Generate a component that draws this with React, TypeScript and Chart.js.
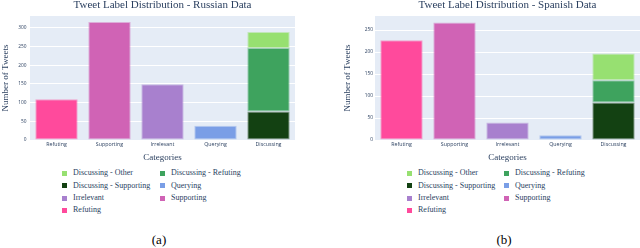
import React, { useEffect, useRef } from "react";
import { Chart, registerables } from "chart.js";

Chart.register(...registerables);

const categories = ["Refuting", "Supporting", "Irrelevant", "Querying", "Discussing"];
const singleLabels = ["Refuting", "Supporting", "Irrelevant", "Querying"];
const discussingLabels = ["Discussing - Supporting", "Discussing - Refuting", "Discussing - Other"];

// Russian data
const russianSingle = [109, 316, 149, 38];
const russianDiscussing = [76, 170, 43];
const russianYTicks = [0, 50, 100, 150, 200, 250, 300];

// Spanish data
const spanishSingle = [227, 267, 40, 11];
const spanishDiscussing = [85, 51, 61];
const spanishYTicks = [0, 50, 100, 150, 200, 250];

const singleColors = ["#FF4A9C", "#D063B5", "#A880CE", "#7A9EE6"];
const discussingColors = ["#134112", "#3EA35E", "#97E071"];

const legendOrder = [
  ["Discussing - Other", "#97E071"],
  ["Discussing - Refuting", "#3EA35E"],
  ["Discussing - Supporting", "#134112"],
  ["Querying", "#7A9EE6"],
  ["Irrelevant", "#A880CE"],
  ["Supporting", "#D063B5"],
  ["Refuting", "#FF4A9C"],
];

const TEXT = "#2a3f5f";
const SERIF = "'Liberation Serif', 'DejaVu Serif', serif";
const SANS = "'Open Sans', sans-serif";

function hexA(hex: string, a: number) {
  const n = parseInt(hex.slice(1), 16);
  return `rgba(${(n >> 16) & 255},${(n >> 8) & 255},${n & 255},${a})`;
}

const bgPlugin = {
  id: "plotbg",
  beforeDraw(chart: any) {
    const { ctx, chartArea } = chart;
    ctx.save();
    ctx.fillStyle = "#E5ECF6";
    ctx.fillRect(chartArea.left, chartArea.top, chartArea.right - chartArea.left, chartArea.bottom - chartArea.top);
    ctx.restore();
  },
};

function buildDatasets(single: number[], disc: number[]) {
  const ds: any[] = [];
  singleLabels.forEach((lab, i) => {
    ds.push({
      label: lab,
      data: categories.map((c) => (c === lab ? single[i] : null)),
      backgroundColor: singleColors[i],
      borderColor: hexA(singleColors[i], 0.45),
      borderWidth: 1,
      borderSkipped: false,
    });
  });
  discussingLabels.forEach((lab, i) => {
    ds.push({
      label: lab,
      data: categories.map((c) => (c === "Discussing" ? disc[i] : null)),
      backgroundColor: discussingColors[i],
      borderColor: hexA(discussingColors[i], 0.45),
      borderWidth: 1,
      borderSkipped: false,
    });
  });
  return ds;
}

type Props = {
  title: string;
  single: number[];
  disc: number[];
  yTicks: number[];
  yMax: number;
  yAxisWidth: number;
  yTitlePad: number;
  rightPad: number;
  tickPad: number;
};

function BarChart(p: Props) {
  const ref = useRef<HTMLCanvasElement>(null);
  useEffect(() => {
    const chart = new Chart(ref.current!, {
      type: "bar",
      data: { labels: categories, datasets: buildDatasets(p.single, p.disc) },
      plugins: [bgPlugin],
      options: {
        animation: false,
        responsive: false,
        devicePixelRatio: 1,
        layout: { padding: { left: 0, right: p.rightPad, top: 0, bottom: 0 } },
        datasets: { bar: { categoryPercentage: 1, barPercentage: 0.8 } },
        plugins: {
          legend: { display: false },
          tooltip: { enabled: false },
          title: {
            display: true,
            text: p.title,
            fullSize: false,
            color: TEXT,
            font: { family: SERIF, size: 11, weight: "normal", lineHeight: 1 },
            padding: { top: 0, bottom: 5 },
          },
        },
        scales: {
          x: {
            stacked: true,
            grid: { display: false, drawTicks: false },
            border: { display: false },
            ticks: { color: TEXT, font: { family: SANS, size: 5.3 }, padding: 1, maxRotation: 0, autoSkip: false },
            title: {
              display: true,
              text: "Categories",
              color: TEXT,
              font: { family: SERIF, size: 9 },
              padding: { top: 0, bottom: 0 },
            },
            afterFit: (s: any) => {
              s.height = 23;
            },
          },
          y: {
            stacked: true,
            min: 0,
            max: p.yMax,
            grid: { color: "#ffffff", lineWidth: 1, drawTicks: false },
            border: { display: false },
            ticks: { color: TEXT, font: { family: SANS, size: 4.8 }, padding: p.tickPad, stepSize: 50 },
            afterBuildTicks: (s: any) => {
              s.ticks = p.yTicks.map((v) => ({ value: v }));
            },
            title: {
              display: true,
              text: "Number of Tweets",
              color: TEXT,
              font: { family: SERIF, size: 9 },
              padding: { top: p.yTitlePad, bottom: 0 },
            },
            afterFit: (s: any) => {
              s.width = p.yAxisWidth;
            },
          },
        },
      } as any,
    });
    return () => chart.destroy();
  }, []);
  return <canvas ref={ref} width={320} height={163} style={{ display: "block", width: 320, height: 163 }} />;
}

function Legend({ left, markerCol2 }: { left: number; markerCol2: number }) {
  const rowsY = [173.3, 185.7, 198, 210.4];
  return (
    <>
      {legendOrder.map(([label, color], i) => {
        const row = Math.floor(i / 2);
        const col = i % 2;
        const x = col === 0 ? left : markerCol2;
        const y = rowsY[row];
        return (
          <div
            key={label}
            style={{
              position: "absolute",
              left: x,
              top: y - 6,
              height: 12,
              lineHeight: "12px",
              display: "flex",
              alignItems: "center",
              whiteSpace: "nowrap",
              fontFamily: SERIF,
              fontSize: 8,
              color: TEXT,
            }}
          >
            <span style={{ display: "inline-block", width: 5, height: 5, background: color, marginRight: 6 }} />
            <span>{label}</span>
          </div>
        );
      })}
    </>
  );
}

export default function App() {
  return (
    <div style={{ position: "absolute", left: 0, top: 0, width: 640, height: 248, background: "#fff", overflow: "hidden" }}>
      <div style={{ position: "absolute", left: 0, top: 0 }}>
        <BarChart
          title="Tweet Label Distribution - Russian Data"
          single={russianSingle}
          disc={russianDiscussing}
          yTicks={russianYTicks}
          yMax={332}
          yAxisWidth={30}
          yTitlePad={0}
          rightPad={25}
          tickPad={3.5}
        />
      </div>
      <div style={{ position: "absolute", left: 320, top: 0 }}>
        <BarChart
          title="Tweet Label Distribution - Spanish Data"
          single={spanishSingle}
          disc={spanishDiscussing}
          yTicks={spanishYTicks}
          yMax={282}
          yAxisWidth={55}
          yTitlePad={22}
          rightPad={0}
          tickPad={2}
        />
      </div>
      <Legend left={62} markerCol2={160} />
      <Legend left={407} markerCol2={504} />
      <div style={{ position: "absolute", left: 139, width: 40, top: 232, textAlign: "center", fontFamily: SERIF, fontSize: 13, lineHeight: "16px", color: "#000" }}>(a)</div>
      <div style={{ position: "absolute", left: 484, width: 40, top: 232, textAlign: "center", fontFamily: SERIF, fontSize: 13, lineHeight: "16px", color: "#000" }}>(b)</div>
    </div>
  );
}
